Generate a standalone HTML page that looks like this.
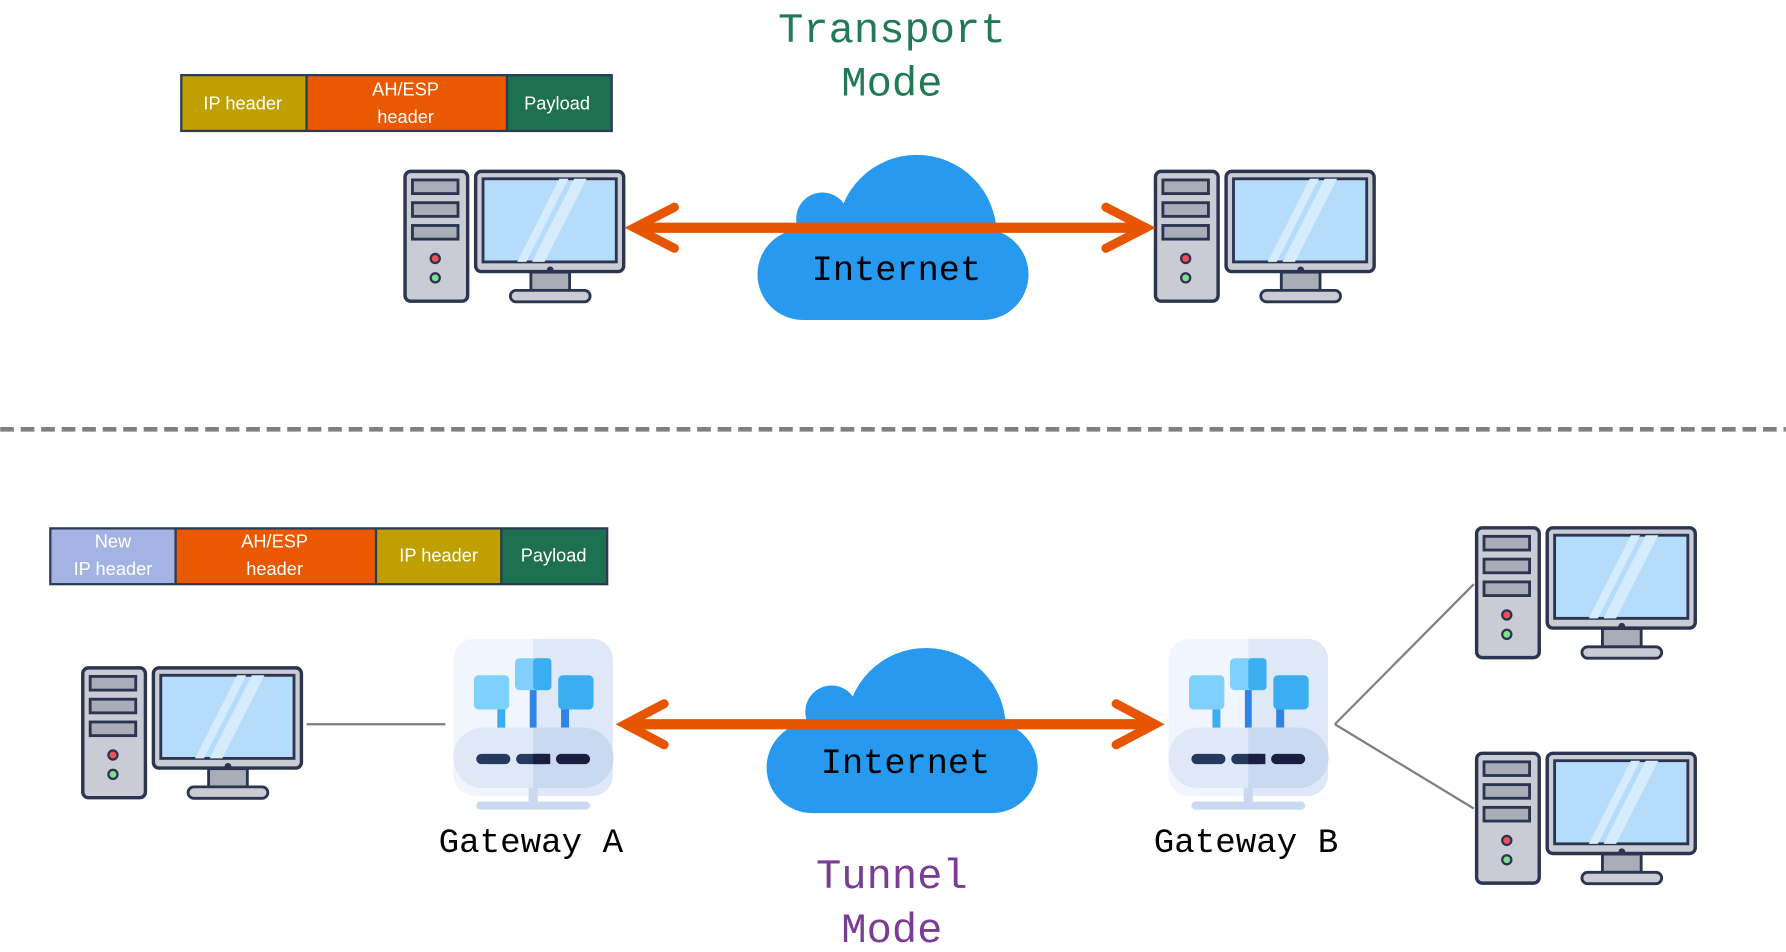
<!DOCTYPE html>
<html><head><meta charset="utf-8"><style>
html,body{margin:0;padding:0;background:#fff;width:1786px;height:952px;overflow:hidden}
svg{display:block}
.pk{font-family:"Liberation Sans",sans-serif;font-size:16px;fill:#fff;text-anchor:middle}
.mono{font-family:"Liberation Mono","DejaVu Sans Mono",monospace;text-anchor:middle}
</style></head><body>
<svg width="1786" height="952" viewBox="0 0 1568 836" xmlns="http://www.w3.org/2000/svg">
<defs>
<symbol id="pc" viewBox="0 0 196 120" overflow="visible">
  <rect x="1.5" y="1.5" width="55" height="114" rx="5" fill="#c9ccd4" stroke="#2b3550" stroke-width="3"/>
  <rect x="8" y="9" width="40" height="12" fill="#a8adb8" stroke="#2b3550" stroke-width="2.5"/>
  <rect x="8" y="29" width="40" height="12" fill="#a8adb8" stroke="#2b3550" stroke-width="2.5"/>
  <rect x="8" y="49" width="40" height="12" fill="#a8adb8" stroke="#2b3550" stroke-width="2.5"/>
  <circle cx="28" cy="78" r="4" fill="#f0505a" stroke="#2b3550" stroke-width="2"/>
  <circle cx="28" cy="95" r="4" fill="#7ee08e" stroke="#2b3550" stroke-width="2"/>
  <rect x="63.5" y="1.5" width="130" height="88" rx="5" fill="#c9ccd4" stroke="#2b3550" stroke-width="3"/>
  <rect x="70" y="8" width="117" height="73" fill="#b6dcfb" stroke="#2b3550" stroke-width="2.5"/>
  <polygon points="100,81 108,81 145,8 137,8" fill="#d6ebfc"/>
  <polygon points="113,81 124,81 161,8 150,8" fill="#d6ebfc"/>
  <circle cx="129" cy="88" r="3" fill="#2b3550"/>
  <rect x="112" y="90" width="34" height="16" fill="#a8adb8" stroke="#2b3550" stroke-width="2.5"/>
  <rect x="94" y="106" width="70" height="10" rx="5" fill="#c9ccd4" stroke="#2b3550" stroke-width="2.5"/>
</symbol>
<symbol id="gw" viewBox="0 0 140 150" overflow="visible">
  <rect x="0" y="0" width="140" height="138" rx="18" fill="#f1f5fd"/>
  <path d="M70 0 H122 A18 18 0 0 1 140 18 V120 A18 18 0 0 1 122 138 H70 Z" fill="#dfe8f7"/>
  <path d="M34 40 L42 48 L42 80" stroke="#3aaef0" stroke-width="7" fill="none"/>
  <path d="M106 40 L98 48 L98 80" stroke="#2e86e4" stroke-width="7" fill="none"/>
  <rect x="67" y="30" width="6" height="50" fill="#2e86e4"/>
  <rect x="18" y="32" width="31" height="30" rx="4" fill="#7fd0fc"/>
  <rect x="54" y="17" width="32" height="28" rx="4" fill="#7fd0fc"/>
  <rect x="70" y="17" width="16" height="28" rx="3" fill="#3aaef0"/>
  <rect x="92" y="32" width="31" height="30" rx="4" fill="#3aaef0"/>
  <rect x="0" y="78" width="140" height="53" rx="26" fill="#dfe8f7"/>
  <path d="M70 78 H114 A26 26 0 0 1 114 131 H70 Z" fill="#c8d9f0"/>
  <rect x="20" y="101" width="30" height="9" rx="4.5" fill="#253a5e"/>
  <rect x="55" y="101" width="30" height="9" rx="4.5" fill="#253a5e"/>
  <rect x="70" y="101" width="15" height="9" fill="#1a1f40"/>
  <rect x="90" y="101" width="30" height="9" rx="4.5" fill="#1a1f40"/>
  <rect x="66" y="131" width="8" height="14" fill="#c8d9f0"/>
  <rect x="20" y="143" width="100" height="7" rx="3.5" fill="#c8d9f0"/>
</symbol>
<symbol id="cloud" viewBox="0 0 240 150" overflow="visible">
  <rect x="0" y="65" width="238" height="80" rx="40" fill="#2799ee"/>
  <circle cx="140" cy="70" r="70" fill="#2799ee"/>
  <circle cx="57" cy="56" r="23" fill="#2799ee"/>
  <rect x="36" y="55" width="110" height="30" fill="#2799ee"/>
</symbol>
</defs>

<text class="mono" x="783" y="37" font-size="37" fill="#1f7a55">Transport</text>
<text class="mono" x="783" y="84" font-size="37" fill="#1f7a55">Mode</text>

<!-- top packet -->
<rect x="159" y="66" width="110" height="49" fill="#bfa000"/>
<rect x="269" y="66" width="176" height="49" fill="#ea5800"/>
<rect x="445" y="66" width="92" height="49" fill="#1e7150"/>
<rect x="159" y="66" width="378" height="49" fill="none" stroke="#2b3a55" stroke-width="2"/>
<line x1="269" y1="66" x2="269" y2="115" stroke="#2b3a55" stroke-width="2"/>
<line x1="445" y1="66" x2="445" y2="115" stroke="#2b3a55" stroke-width="2"/>
<text class="pk" x="213" y="96">IP header</text>
<text class="pk" x="356" y="84">AH/ESP</text>
<text class="pk" x="356" y="108">header</text>
<text class="pk" x="489" y="96">Payload</text>

<use href="#pc" x="354" y="149" width="196" height="120"/>
<use href="#pc" x="1013" y="149" width="196" height="120"/>
<use href="#cloud" x="665" y="136" width="240" height="150"/>
<line x1="560" y1="200" x2="1004" y2="200" stroke="#e85500" stroke-width="9"/>
<polyline points="592,182 557,200 592,218" fill="none" stroke="#e85500" stroke-width="8" stroke-linejoin="miter" stroke-linecap="round"/>
<polyline points="971,182 1006,200 971,218" fill="none" stroke="#e85500" stroke-width="8" stroke-linecap="round"/>
<text class="mono" x="787" y="246" font-size="31" fill="#000">Internet</text>

<line x1="0" y1="377" x2="1568" y2="377" stroke="#808080" stroke-width="4" stroke-dasharray="12,6"/>

<!-- bottom packet -->
<rect x="44" y="464" width="110" height="49" fill="#a3b4e4"/>
<rect x="154" y="464" width="176" height="49" fill="#ea5800"/>
<rect x="330" y="464" width="110" height="49" fill="#bfa000"/>
<rect x="440" y="464" width="93" height="49" fill="#1e7150"/>
<rect x="44" y="464" width="489" height="49" fill="none" stroke="#2b3a55" stroke-width="2"/>
<line x1="154" y1="464" x2="154" y2="513" stroke="#2b3a55" stroke-width="2"/>
<line x1="330" y1="464" x2="330" y2="513" stroke="#2b3a55" stroke-width="2"/>
<line x1="440" y1="464" x2="440" y2="513" stroke="#2b3a55" stroke-width="2"/>
<text class="pk" x="99" y="481">New</text>
<text class="pk" x="99" y="505">IP header</text>
<text class="pk" x="241" y="481">AH/ESP</text>
<text class="pk" x="241" y="505">header</text>
<text class="pk" x="385" y="493">IP header</text>
<text class="pk" x="486" y="493">Payload</text>

<use href="#pc" x="71" y="585" width="196" height="120"/>
<line x1="269" y1="636" x2="391" y2="636" stroke="#808080" stroke-width="2"/>
<use href="#gw" x="398" y="561" width="140" height="150"/>
<use href="#gw" x="1026" y="561" width="140" height="150"/>
<text class="mono" x="466" y="748" font-size="30" fill="#000">Gateway A</text>
<text class="mono" x="1094" y="748" font-size="30" fill="#000">Gateway B</text>

<use href="#cloud" x="673" y="569" width="240" height="150"/>
<line x1="552" y1="636" x2="1012" y2="636" stroke="#e85500" stroke-width="9"/>
<polyline points="583,618 549,636 583,654" fill="none" stroke="#e85500" stroke-width="8" stroke-linecap="round"/>
<polyline points="980,618 1014,636 980,654" fill="none" stroke="#e85500" stroke-width="8" stroke-linecap="round"/>
<text class="mono" x="795" y="679" font-size="31" fill="#000">Internet</text>

<line x1="1172" y1="636" x2="1294" y2="513" stroke="#808080" stroke-width="2"/>
<line x1="1172" y1="636" x2="1294" y2="710" stroke="#808080" stroke-width="2"/>
<use href="#pc" x="1295" y="462" width="196" height="120"/>
<use href="#pc" x="1295" y="660" width="196" height="120"/>

<text class="mono" x="783" y="780" font-size="37" fill="#7a3c94">Tunnel</text>
<text class="mono" x="783" y="827" font-size="37" fill="#7a3c94">Mode</text>
</svg>
</body></html>
